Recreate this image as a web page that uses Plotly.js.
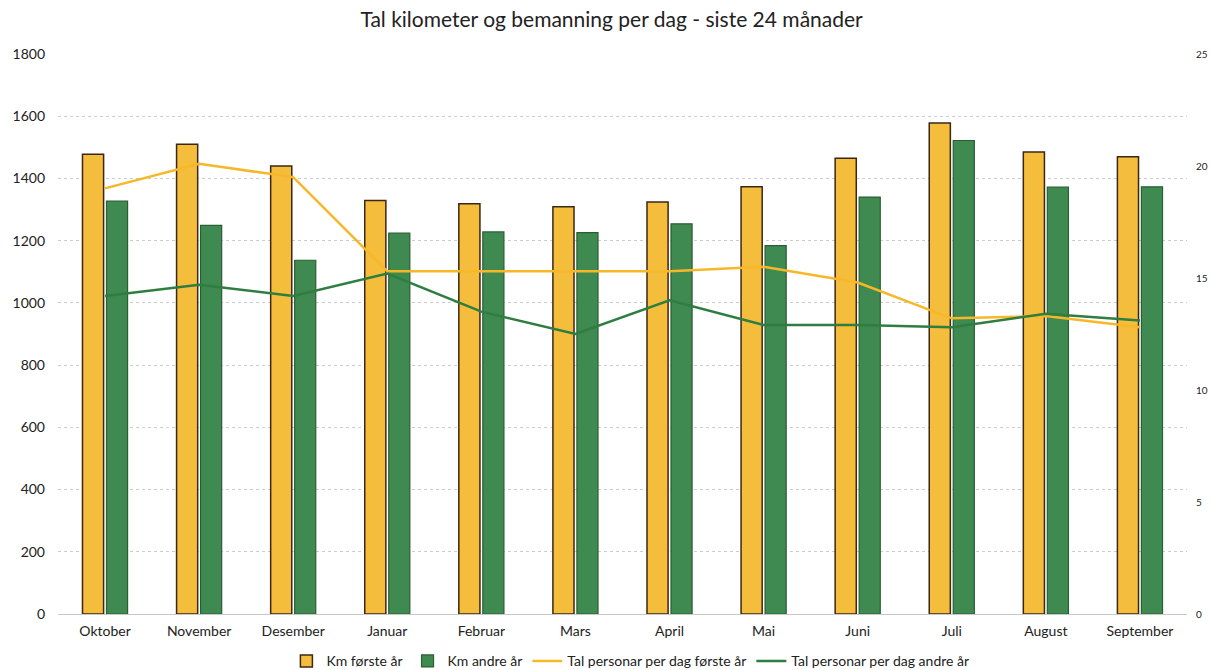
<!DOCTYPE html>
<html>
<head>
<meta charset="utf-8">
<script src="https://cdn.plot.ly/plotly-3.0.1.min.js"></script>
<style>
html,body{margin:0;padding:0;background:#fff;}
#chart{width:1211px;height:670px;}
</style>
</head>
<body>
<div id="chart"></div>
<script>
const months = ["Oktober","November","Desember","Januar","Februar","Mars","April","Mai","Juni","Juli","August","September"];
const kmFirstYear = [1478,1510,1440,1329,1319,1309,1324,1373,1465,1578,1485,1470];
const kmSecondYear = [1327,1249,1137,1224,1228,1226,1254,1184,1340,1522,1372,1373];
const staffFirstYear = [19.0,20.1,19.5,15.3,15.3,15.3,15.3,15.5,14.8,13.2,13.3,12.8];
const staffSecondYear = [14.2,14.7,14.2,15.2,13.5,12.5,14.0,12.9,12.9,12.8,13.4,13.1];
const leftTicks = [0,200,400,600,800,1000,1200,1400,1600,1800];
const rightTicks = [0,5,10,15,20,25];

const font = "Lato, 'Open Sans', sans-serif";

const traces = [
  {type:'bar', name:'Km første år', x:months, y:kmFirstYear,
   marker:{color:'#F5BD3C', line:{color:'#3b2716', width:1.5}}},
  {type:'bar', name:'Km andre år', x:months, y:kmSecondYear,
   marker:{color:'#3F8A50', line:{color:'#2a5f34', width:1.2}}},
  {type:'scatter', mode:'lines', name:'Tal personar per dag første år', x:months, y:staffFirstYear,
   yaxis:'y2', line:{color:'#F6B829', width:2.5}},
  {type:'scatter', mode:'lines', name:'Tal personar per dag andre år', x:months, y:staffSecondYear,
   yaxis:'y2', line:{color:'#2F7D40', width:2.5}}
];

const layout = {
  width:1211, height:670,
  paper_bgcolor:'#fff', plot_bgcolor:'#fff',
  margin:{l:58, r:24, t:54, b:56, autoexpand:false},
  title:{text:'Tal kilometer og bemanning per dag - siste 24 månader',
         font:{family:font, size:21, color:'#222'}, x:0.505, xanchor:'center',
         yref:'container', y:0.97, yanchor:'middle'},
  font:{family:font, color:'#222'},
  bargap:0.49, bargroupgap:0.12,
  barmode:'group',
  showlegend:true,
  legend:{orientation:'h', x:0.507, xanchor:'center', yref:'container', y:0.013, yanchor:'middle',
          font:{family:font, size:14, color:'#222'}, traceorder:'normal'},
  xaxis:{type:'category', automargin:false, tickfont:{family:font, size:14, color:'#222'},
         showgrid:false, showline:true, linecolor:'#c8c8c8', linewidth:1, ticks:'',
         ticklabelstandoff:4},
  yaxis:{range:[0,1800], tickvals:leftTicks, ticktext:leftTicks.map(String), automargin:false,
         tickfont:{family:font, size:14, color:'#222'},
         showgrid:true, gridcolor:'#cccccc', griddash:'dot', gridwidth:1,
         zeroline:false, showline:false, ticks:'', ticklabelstandoff:12},
  yaxis2:{range:[0,25], tickvals:rightTicks, ticktext:rightTicks.map(String), automargin:false,
          overlaying:'y', side:'right', showgrid:false, zeroline:false, showline:false,
          tickfont:{family:font, size:10, color:'#222'}, ticks:'', ticklabelstandoff:8}
};

Plotly.newPlot('chart', traces, layout, {displayModeBar:false, staticPlot:true});
</script>
</body>
</html>
